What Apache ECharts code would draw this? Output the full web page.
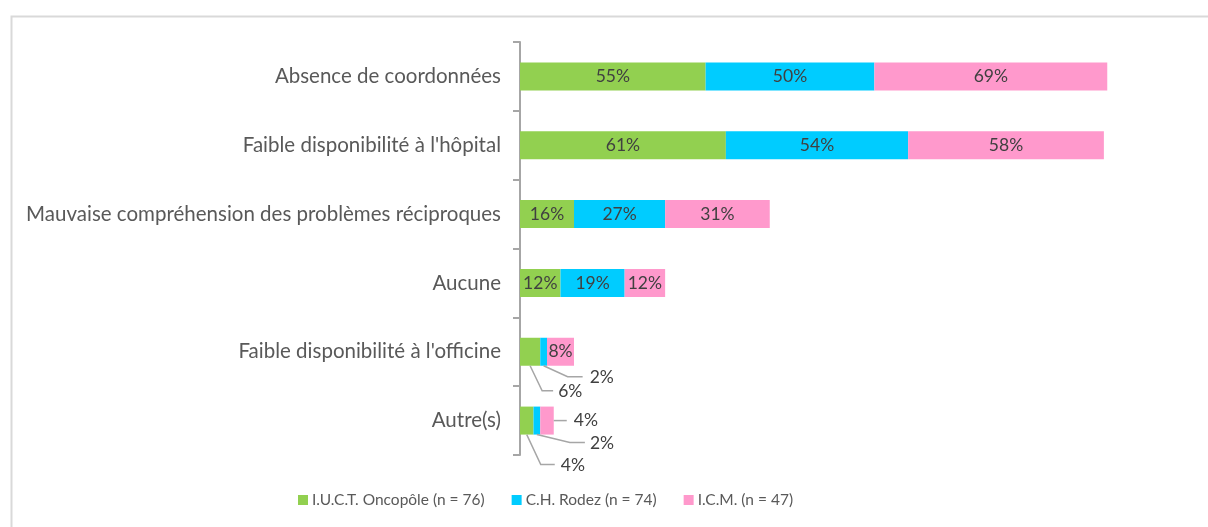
<!DOCTYPE html>
<html><head><meta charset="utf-8">
<script src="https://cdn.jsdelivr.net/npm/echarts@6/dist/echarts.min.js"></script>
<style>html,body{margin:0;padding:0;background:#fff}#c{width:1208px;height:527px}</style>
</head><body><div id="c"></div>
<script>
const categories = [
  'Absence de coordonnées',
  "Faible disponibilité à l'hôpital",
  'Mauvaise compréhension des problèmes réciproques',
  'Aucune',
  "Faible disponibilité à l'officine",
  'Autre(s)'
];
const oncopole = [55, 61, 16, 12, 6, 4];
const rodez = [50, 54, 27, 19, 2, 2];
const icm = [69, 58, 31, 12, 8, 4];
const seriesNames = ['I.U.C.T. Oncopôle (n = 76)', 'C.H. Rodez (n = 74)', 'I.C.M. (n = 47)'];
// labels placed outside their segment, with a leader line: [seriesIndex, categoryIndex]
const outsideLabels = [[0, 4], [0, 5], [1, 4], [1, 5], [2, 5]];

const FONT = 'Lato';
const colors = ['#92d050', '#00ccff', '#ff99cc'];
const lineColor = '#a6a6a6';
const BAR_W = 28;
const allSeries = [oncopole, rodez, icm];

function placement(s, c, x0, x1, cy) {
  const cx = (x0 + x1) / 2, bottom = cy + BAR_W / 2;
  const key = s + '-' + c;
  const defs = {
    '0-4': { p: [[cx, bottom], [cx + 12, bottom + 25], [cx + 23, bottom + 25]], x: cx + 28, y: bottom + 26 },
    '0-5': { p: [[cx, bottom], [cx + 14, bottom + 30], [cx + 28, bottom + 30]], x: cx + 34, y: bottom + 31 },
    '1-4': { p: [[cx, bottom], [cx + 24, bottom + 11], [cx + 39, bottom + 11]], x: cx + 46, y: bottom + 12 },
    '1-5': { p: [[cx, bottom], [cx + 33, bottom + 8], [cx + 48, bottom + 8]], x: cx + 53, y: bottom + 9 },
    '2-5': { p: [[x1, cy], [x1 + 6, cy], [x1 + 13, cy]], x: x1 + 20, y: cy }
  };
  return defs[key];
}

function makeSeries(idx, data) {
  return {
    name: seriesNames[idx],
    type: 'bar',
    stack: 'total',
    barWidth: BAR_W,
    data: data,
    itemStyle: { color: colors[idx] },
    label: {
      show: true, position: 'inside', formatter: '{c}%',
      color: '#404040', fontFamily: FONT, fontSize: 17.5
    },
    labelLayout: function (p) {
      const r = p.rect;
      const d = placement(idx, p.dataIndex, r.x, r.x + r.width, r.y + r.height / 2);
      if (!d) return {};
      return { x: d.x, y: d.y, align: 'left', verticalAlign: 'middle' };
    }
  };
}

const leaderData = outsideLabels.map(([s, c]) => {
  let start = 0;
  for (let k = 0; k < s; k++) start += allSeries[k][c];
  return [start, start + allSeries[s][c], c, s];
});

const chart = echarts.init(document.getElementById('c'), null, { renderer: 'canvas' });
chart.setOption({
  animation: false,
  backgroundColor: '#fff',
  graphic: [{
    type: 'rect', left: 9, top: 14, silent: true,
    shape: { width: 1260, height: 600 },
    style: { fill: 'none', stroke: '#d9d9d9', lineWidth: 2 }
  }],
  grid: { left: 520, top: 42, width: 607.5, height: 413, containLabel: false },
  xAxis: { type: 'value', min: 0, max: 180, show: false },
  yAxis: {
    type: 'category', data: categories, inverse: true,
    axisLine: { show: true, lineStyle: { color: lineColor, width: 2 } },
    axisTick: { show: true, length: 7, lineStyle: { color: lineColor, width: 2 } },
    axisLabel: { color: '#595959', fontFamily: FONT, fontSize: 20.5, margin: 19 }
  },
  legend: {
    bottom: 14, left: 293, icon: 'rect', itemWidth: 10, itemHeight: 10, itemGap: 27,
    textStyle: { color: '#595959', fontFamily: FONT, fontSize: 15.5, padding: [0, 0, 0, -1] },
    data: seriesNames
  },
  series: [
    makeSeries(0, oncopole), makeSeries(1, rodez), makeSeries(2, icm),
    {
      type: 'custom', silent: true, z: 5,
      encode: { x: [0, 1], y: 2 },
      data: leaderData,
      renderItem: function (params, api) {
        const p0 = api.coord([api.value(0), api.value(2)]);
        const p1 = api.coord([api.value(1), api.value(2)]);
        const d = placement(api.value(3), api.value(2), p0[0], p1[0], p0[1]);
        return {
          type: 'polyline', shape: { points: d.p },
          style: { stroke: lineColor, lineWidth: 1.5, fill: null }
        };
      }
    }
  ]
});
</script></body></html>
